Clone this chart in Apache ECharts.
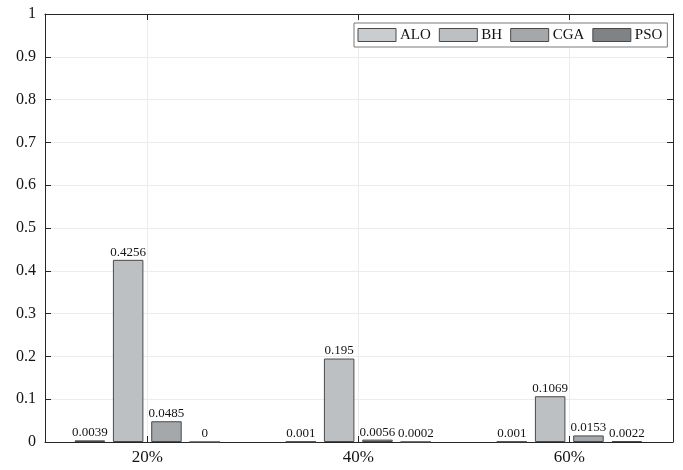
<!DOCTYPE html>
<html>
<head>
<meta charset="utf-8">
<script src="https://cdn.jsdelivr.net/npm/echarts@6/dist/echarts.min.js"></script>
<style>
  html, body { margin: 0; padding: 0; background: #fff; }
  #chart { width: 683px; height: 470px; }
</style>
</head>
<body>
<div id="chart"></div>
<script>
// Missing-rate levels on the x axis
const categories = ['20%', '40%', '60%'];

// Algorithm names and their values per level
const seriesNames = ['ALO', 'BH', 'CGA', 'PSO'];
const aloValues = [0.0039, 0.001, 0.001];
const bhValues = [0.4256, 0.195, 0.1069];
const cgaValues = [0.0485, 0.0056, 0.0153];
const psoValues = [0, 0.0002, 0.0022];

// Y axis tick labels
const yTickLabels = ['0', '0.1', '0.2', '0.3', '0.4', '0.5', '0.6', '0.7', '0.8', '0.9', '1'];

const seriesValues = [aloValues, bhValues, cgaValues, psoValues];
const barColors = ['#c9cdd0', '#bcc0c3', '#a4a8ab', '#7f8386'];
const FONT = 'Liberation Serif';
const INK = '#141414';
const FRAME = '#262626';

const chart = echarts.init(document.getElementById('chart'), null, { renderer: 'canvas' });

const series = seriesNames.map((name, i) => ({
  name: name,
  type: 'bar',
  xAxisIndex: 2,
  yAxisIndex: 2,
  data: seriesValues[i],
  barWidth: 30.5,
  barGap: '25.6%',
  itemStyle: { color: barColors[i], borderColor: '#4a4a4a', borderWidth: 1 },
  label: {
    show: true,
    position: 'top',
    distance: 1,
    fontFamily: FONT,
    fontSize: 13,
    color: INK,
    formatter: (p) => String(p.value)
  },
  emphasis: { disabled: true },
  animation: false
}));

chart.setOption({
  animation: false,
  backgroundColor: '#ffffff',
  grid: [
    // frame with y ticks and horizontal grid
    { left: 45, right: 10, top: 14, bottom: 28, containLabel: false },
    // category band for the grouped bars
    { left: 41.8, right: 8.2, top: 14, bottom: 28, containLabel: false }
  ],
  legend: {
    data: seriesNames,
    left: 354,
    top: 23,
    orient: 'horizontal',
    icon: 'rect',
    itemWidth: 38,
    itemHeight: 13,
    itemGap: 8,
    padding: [4.5, 5, 4.5, 3.5],
    backgroundColor: '#ffffff',
    borderColor: '#7a7a7a',
    borderWidth: 1,
    borderRadius: 0,
    itemStyle: { borderColor: '#4a4a4a', borderWidth: 1 },
    textStyle: { fontFamily: FONT, fontSize: 15, color: INK, padding: [0, 0, 0, -1], lineHeight: 14 },
    selectedMode: false
  },
  xAxis: [
    {
      gridIndex: 0, type: 'value', min: 0, max: 1, position: 'bottom',
      axisLine: { show: true, onZero: false, lineStyle: { color: FRAME, width: 1 } },
      axisTick: { show: false }, axisLabel: { show: false }, splitLine: { show: false }
    },
    {
      gridIndex: 0, type: 'value', min: 0, max: 1, position: 'top',
      axisLine: { show: true, onZero: false, lineStyle: { color: FRAME, width: 1 } },
      axisTick: { show: false }, axisLabel: { show: false }, splitLine: { show: false }
    },
    {
      gridIndex: 1, type: 'category', data: categories, position: 'bottom',
      axisLine: { show: false },
      axisTick: { show: true, inside: true, alignWithLabel: true, length: 6, lineStyle: { color: FRAME } },
      axisLabel: { fontFamily: FONT, fontSize: 17, color: INK, margin: 7 },
      splitLine: { show: true, alignWithLabel: true, lineStyle: { color: '#ececec', width: 1 } }
    },
    {
      gridIndex: 1, type: 'category', data: categories, position: 'top',
      axisLine: { show: false },
      axisTick: { show: true, inside: true, alignWithLabel: true, length: 6, lineStyle: { color: FRAME } },
      axisLabel: { show: false }, splitLine: { show: false }
    }
  ],
  yAxis: [
    {
      gridIndex: 0, type: 'value', min: 0, max: 1, interval: 0.1, position: 'left',
      axisLine: { show: true, onZero: false, lineStyle: { color: FRAME, width: 1 } },
      axisTick: { show: true, inside: true, length: 6, lineStyle: { color: FRAME } },
      axisLabel: {
        fontFamily: FONT, fontSize: 16, color: INK, margin: 9,
        formatter: (v) => yTickLabels[Math.round(v * 10)]
      },
      splitLine: { show: true, lineStyle: { color: '#ececec', width: 1 } }
    },
    {
      gridIndex: 0, type: 'value', min: 0, max: 1, interval: 0.1, position: 'right',
      axisLine: { show: true, onZero: false, lineStyle: { color: FRAME, width: 1 } },
      axisTick: { show: true, inside: true, length: 6, lineStyle: { color: FRAME } },
      axisLabel: { show: false }, splitLine: { show: false }
    },
    {
      gridIndex: 1, type: 'value', min: 0, max: 1, show: false
    }
  ],
  series: series
});
</script>
</body>
</html>
